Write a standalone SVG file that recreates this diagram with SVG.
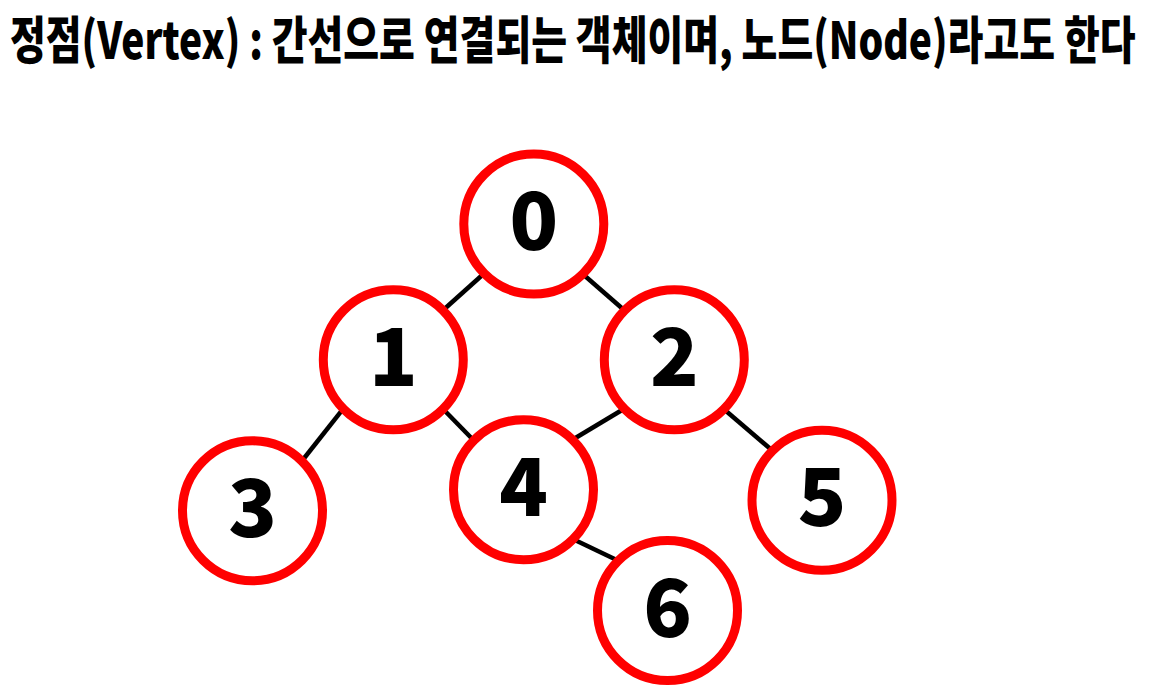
<svg xmlns="http://www.w3.org/2000/svg" width="1154" height="691" viewBox="0 0 1154 691">
<style>
.title{font-family:"Noto Sans CJK KR","Noto Sans",sans-serif;font-weight:900;font-size:46px;fill:#000}
.node circle{fill:#fff;stroke:#ff0000;stroke-width:9}
.node text{font-family:"Noto Sans CJK KR","Noto Sans",sans-serif;font-weight:900;font-size:80px;fill:#000;text-anchor:middle}
.edges line{stroke:#000;stroke-width:4.5}
</style>
<rect width="1154" height="691" fill="#fff"/>
<text class="title" x="0" y="0" transform="translate(10,59) scale(0.846,1.1)">정점(Vertex) : 간선으로 연결되는 객체이며, 노드(Node)라고도 한다</text>
<g id="edges" class="edges">
<line x1="484.3" y1="273.3" x2="443.3" y2="310"/>
<line x1="582.7" y1="274" x2="624" y2="310"/>
<line x1="342.7" y1="409.3" x2="302.7" y2="460"/>
<line x1="443.3" y1="409.3" x2="473.3" y2="440"/>
<line x1="623.3" y1="409.3" x2="573.3" y2="439.3"/>
<line x1="724" y1="409.3" x2="771.7" y2="450"/>
<line x1="573.3" y1="539.3" x2="616.7" y2="560"/>
</g>
<g id="node0" class="node"><circle cx="533.8" cy="224" r="70"/><text x="533.8" y="250">0</text></g>
<g id="node1" class="node"><circle cx="393.3" cy="359.7" r="70"/><text x="393.3" y="385.7">1</text></g>
<g id="node2" class="node"><circle cx="674.3" cy="359.7" r="70"/><text x="674.3" y="385.7">2</text></g>
<g id="node3" class="node"><circle cx="252.5" cy="510.8" r="70"/><text x="252.5" y="536.8">3</text></g>
<g id="node4" class="node"><circle cx="523.5" cy="489.7" r="70"/><text x="523.5" y="515.7">4</text></g>
<g id="node5" class="node"><circle cx="822" cy="500.2" r="70"/><text x="822" y="526.2">5</text></g>
<g id="node6" class="node"><circle cx="667.5" cy="610.5" r="70"/><text x="667.5" y="636.5">6</text></g>
</svg>
